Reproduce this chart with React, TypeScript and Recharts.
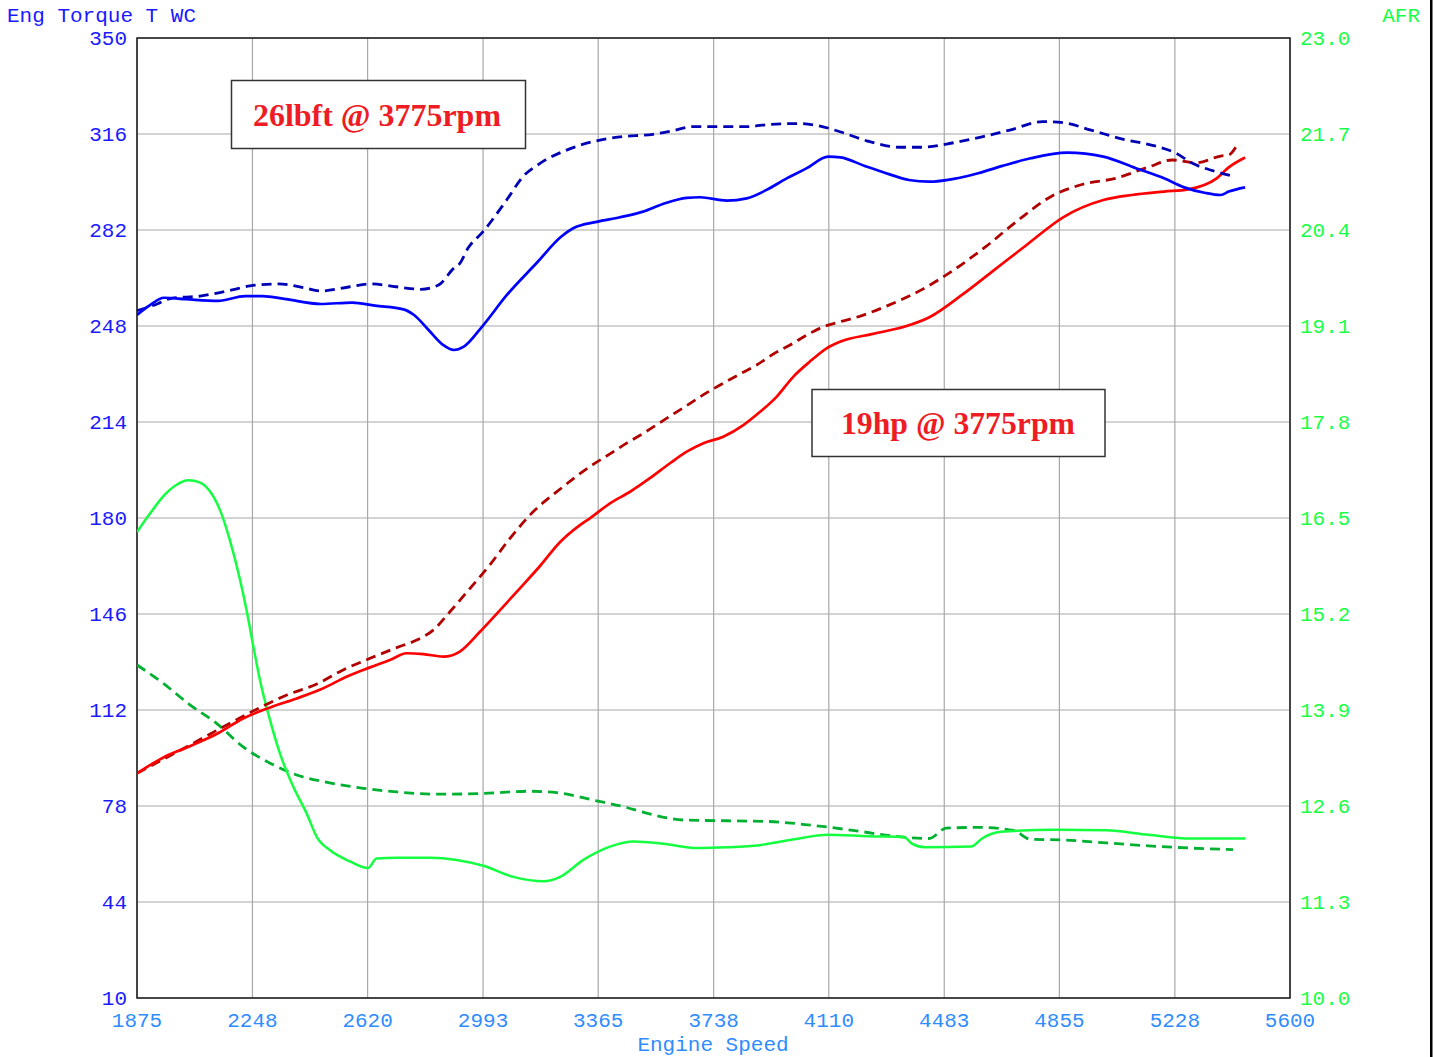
import React from 'react';
import { LineChart, Line, XAxis, YAxis, CartesianGrid, ReferenceArea } from 'recharts';

// ---- axes ----
const xTicks = [1875, 2248, 2620, 2993, 3365, 3738, 4110, 4483, 4855, 5228, 5600];
const leftTicks = [10, 44, 78, 112, 146, 180, 214, 248, 282, 316, 350];
const rightTicks = [10.0, 11.3, 12.6, 13.9, 15.2, 16.5, 17.8, 19.1, 20.4, 21.7, 23.0];

// ---- torque (current run, solid blue) ----
const torqueRpm = [1875, 1917, 1962, 2033, 2137, 2224, 2280, 2356, 2469, 2570, 2644, 2736, 2770, 2817, 2864, 2898, 2931, 2990, 3070, 3166, 3245, 3284, 3360, 3435, 3510, 3574, 3651, 3694, 3780, 3845, 3909, 3974, 4039, 4108, 4148, 4226, 4304, 4369, 4435, 4514, 4592, 4671, 4762, 4880, 4997, 5102, 5193, 5258, 5324, 5376, 5402, 5455];
const torqueVal = [251.9, 255.4, 258.0, 257.5, 256.9, 258.6, 258.6, 257.5, 255.8, 256.3, 255.2, 253.9, 251.9, 246.6, 241.3, 239.5, 240.7, 247.8, 259.0, 270.3, 279.6, 282.6, 284.9, 286.5, 288.5, 291.2, 293.4, 293.6, 292.4, 293.2, 296.2, 300.3, 303.9, 308.0, 307.7, 304.7, 301.8, 299.7, 299.1, 300.1, 302.1, 304.7, 307.4, 309.4, 308.0, 303.9, 300.3, 297.1, 295.2, 294.4, 295.6, 297.1];

// ---- torque (baseline run, dashed navy) ----
const torqueBaseRpm = [1875, 1940, 1985, 2079, 2182, 2240, 2332, 2413, 2469, 2563, 2631, 2712, 2792, 2849, 2898, 2918, 2944, 2993, 3069, 3122, 3177, 3263, 3348, 3435, 3542, 3607, 3671, 3845, 3920, 4017, 4082, 4146, 4232, 4343, 4408, 4513, 4605, 4695, 4801, 4867, 4957, 5062, 5167, 5232, 5285, 5350, 5415];
const torqueBaseVal = [253.4, 255.8, 257.8, 258.6, 260.8, 262.2, 262.9, 261.6, 260.4, 261.9, 262.9, 261.9, 261.0, 262.5, 268.4, 270.2, 275.5, 281.4, 292.6, 300.9, 305.6, 310.3, 313.3, 315.0, 315.9, 317.2, 318.6, 318.6, 319.4, 319.7, 318.8, 316.8, 313.6, 311.3, 311.3, 312.9, 315.0, 317.4, 320.4, 320.0, 317.4, 314.1, 311.7, 309.2, 305.6, 303.0, 301.1];

// ---- power (current run, solid red) ----
const powerRpm = [1875, 1959, 2046, 2132, 2218, 2305, 2391, 2477, 2552, 2628, 2692, 2746, 2800, 2865, 2918, 2983, 3048, 3112, 3177, 3242, 3306, 3338, 3403, 3468, 3532, 3597, 3651, 3705, 3769, 3834, 3888, 3942, 3995, 4049, 4103, 4146, 4252, 4356, 4435, 4540, 4644, 4749, 4867, 4997, 5089, 5193, 5271, 5363, 5402, 5455];
const powerVal = [89.6, 95.1, 99.2, 103.5, 109.0, 112.9, 116.1, 119.7, 123.8, 127.1, 129.7, 132.1, 131.8, 130.9, 132.7, 139.7, 147.4, 155.1, 163.0, 171.5, 177.5, 179.9, 185.2, 189.3, 194.1, 199.4, 203.5, 206.5, 208.8, 212.9, 217.6, 223.0, 230.0, 235.4, 240.1, 242.4, 245.2, 247.8, 251.1, 259.0, 267.8, 276.7, 286.5, 292.6, 294.4, 295.6, 296.4, 300.3, 304.2, 307.7];

// ---- power (baseline run, dashed dark red) ----
const powerBaseRpm = [1875, 2046, 2165, 2262, 2359, 2456, 2541, 2628, 2714, 2779, 2832, 2886, 2951, 3015, 3080, 3145, 3252, 3338, 3403, 3457, 3511, 3565, 3619, 3662, 3716, 3769, 3823, 3877, 3931, 3985, 4039, 4092, 4146, 4200, 4304, 4409, 4513, 4617, 4722, 4827, 4931, 5036, 5141, 5219, 5298, 5376, 5402, 5429];
const powerBaseVal = [89.6, 99.6, 106.7, 112.3, 117.3, 121.2, 126.2, 130.3, 134.1, 136.8, 140.3, 146.8, 155.1, 163.4, 172.8, 181.1, 191.1, 198.2, 202.7, 206.5, 210.0, 213.8, 217.6, 220.6, 224.4, 227.7, 231.0, 234.2, 238.1, 241.3, 244.8, 247.7, 249.5, 251.1, 255.4, 260.8, 267.8, 276.1, 285.5, 293.8, 298.2, 300.3, 304.2, 306.8, 305.8, 308.2, 308.6, 312.1];

// ---- AFR (current run, solid green) ----
const afrRpm = [1875, 1917, 1959, 2003, 2041, 2079, 2111, 2143, 2175, 2208, 2229, 2251, 2272, 2305, 2337, 2380, 2423, 2456, 2499, 2563, 2622, 2649, 2714, 2822, 2908, 2994, 3091, 3188, 3242, 3317, 3403, 3480, 3575, 3684, 3780, 3888, 3998, 4107, 4239, 4352, 4379, 4421, 4570, 4605, 4666, 4843, 5006, 5143, 5279, 5456];
const afrVal = [16.31, 16.56, 16.79, 16.95, 17.01, 16.98, 16.86, 16.61, 16.20, 15.66, 15.25, 14.76, 14.31, 13.76, 13.31, 12.86, 12.50, 12.18, 12.00, 11.85, 11.76, 11.89, 11.90, 11.90, 11.87, 11.79, 11.64, 11.58, 11.64, 11.87, 12.05, 12.12, 12.09, 12.03, 12.04, 12.07, 12.15, 12.21, 12.19, 12.18, 12.09, 12.04, 12.05, 12.16, 12.25, 12.28, 12.27, 12.21, 12.16, 12.16];

// ---- AFR (baseline run, dashed green) ----
const afrBaseRpm = [1875, 1960, 2046, 2132, 2218, 2305, 2391, 2477, 2606, 2714, 2854, 2994, 3145, 3231, 3360, 3457, 3507, 3643, 3780, 3916, 4053, 4188, 4325, 4434, 4489, 4597, 4707, 4761, 4870, 5007, 5143, 5279, 5416];
const afrBaseVal = [14.51, 14.26, 13.97, 13.72, 13.40, 13.18, 13.02, 12.93, 12.84, 12.79, 12.76, 12.77, 12.80, 12.78, 12.67, 12.58, 12.52, 12.41, 12.40, 12.39, 12.34, 12.27, 12.19, 12.16, 12.30, 12.31, 12.27, 12.15, 12.14, 12.10, 12.06, 12.03, 12.01];

// ---- annotations ----
const torqueNote = '26lbft @ 3775rpm';
const powerNote = '19hp @ 3775rpm';

type Row = { rpm: number; [k: string]: number };
const chartData: Row[] = [];
const addSeries = (rpms: number[], vals: number[], key: string) => {
  rpms.forEach((r, i) => chartData.push({ rpm: r, [key]: vals[i] }));
};
addSeries(torqueRpm, torqueVal, 'torque');
addSeries(torqueBaseRpm, torqueBaseVal, 'torqueBase');
addSeries(powerRpm, powerVal, 'power');
addSeries(powerBaseRpm, powerBaseVal, 'powerBase');
addSeries(afrRpm, afrVal, 'afr');
addSeries(afrBaseRpm, afrBaseVal, 'afrBase');
chartData.sort((a, b) => a.rpm - b.rpm);

const MONO = '"Liberation Mono", "Courier New", monospace';
const SERIF = '"Liberation Serif", "Times New Roman", serif';

export default function App() {
  const W = 1434;
  const H = 1057;
  return (
    <div style={{ position: 'absolute', left: 0, top: 0, width: W, height: H, background: '#fff', overflow: 'hidden' }}>
      <LineChart
        width={W}
        height={H}
        data={chartData}
        margin={{ top: 38, right: 84, bottom: 29, left: 77 }}
      >
        <CartesianGrid yAxisId="left" stroke="#a8a8a8" strokeWidth={1.2} />
        <XAxis
          dataKey="rpm"
          type="number"
          domain={[1875, 5600]}
          ticks={xTicks}
          allowDataOverflow
          height={30}
          axisLine={false}
          tickLine={false}
          tickMargin={8}
          tick={{ fill: '#2f8cff', fontSize: 21, fontFamily: MONO }}
        />
        <YAxis
          yAxisId="left"
          orientation="left"
          domain={[10, 350]}
          ticks={leftTicks}
          allowDataOverflow
          width={60}
          axisLine={false}
          tickLine={false}
          tickMargin={4}
          tick={{ fill: '#1a1aff', fontSize: 21, fontFamily: MONO }}
        />
        <YAxis
          yAxisId="right"
          orientation="right"
          domain={[10, 23]}
          ticks={rightTicks}
          allowDataOverflow
          width={60}
          axisLine={false}
          tickLine={false}
          tickMargin={4}
          tickFormatter={(v: number) => v.toFixed(1)}
          tick={{ fill: '#19ff45', fontSize: 21, fontFamily: MONO, textAnchor: 'start' }}
        />
        <ReferenceArea
          yAxisId="left"
          x1={1875}
          x2={5600}
          y1={10}
          y2={350}
          fill="none"
          fillOpacity={0}
          stroke="#1a1a1a"
          strokeWidth={1.5}
          ifOverflow="visible"
        />
        <Line yAxisId="right" dataKey="afrBase" type="monotone" stroke="#00b030" strokeWidth={2.8} strokeDasharray="10 6" dot={false} activeDot={false} connectNulls isAnimationActive={false} />
        <Line yAxisId="right" dataKey="afr" type="monotone" stroke="#14ff40" strokeWidth={2.5} dot={false} activeDot={false} connectNulls isAnimationActive={false} />
        <Line yAxisId="left" dataKey="powerBase" type="monotone" stroke="#b00000" strokeWidth={2.8} strokeDasharray="10 6" dot={false} activeDot={false} connectNulls isAnimationActive={false} />
        <Line yAxisId="left" dataKey="power" type="monotone" stroke="#ff0000" strokeWidth={2.7} dot={false} activeDot={false} connectNulls isAnimationActive={false} />
        <Line yAxisId="left" dataKey="torqueBase" type="monotone" stroke="#0000b4" strokeWidth={2.8} strokeDasharray="10 6" dot={false} activeDot={false} connectNulls isAnimationActive={false} />
        <Line yAxisId="left" dataKey="torque" type="monotone" stroke="#0000ff" strokeWidth={2.7} dot={false} activeDot={false} connectNulls isAnimationActive={false} />
      </LineChart>
      <svg width={W} height={H} style={{ position: 'absolute', left: 0, top: 0, pointerEvents: 'none' }}>
        <text x={7} y={21.5} fontFamily={MONO} fontSize={21} fill="#1a1aff">Eng Torque T WC</text>
        <text x={1420} y={21.5} fontFamily={MONO} fontSize={21} fill="#19ff45" textAnchor="end">AFR</text>
        <text x={713} y={1051} fontFamily={MONO} fontSize={21} fill="#2f8cff" textAnchor="middle">Engine Speed</text>
        <rect x={231.5} y={80.5} width={294} height={68} fill="#fff" stroke="#333" strokeWidth={1.5} />
        <text x={377} y={126} fontFamily={SERIF} fontWeight="bold" fontSize={32} fill="#ee1c25" textAnchor="middle" textLength={248} lengthAdjust="spacingAndGlyphs">{torqueNote}</text>
        <rect x={812} y={389.5} width={293} height={67} fill="#fff" stroke="#333" strokeWidth={1.5} />
        <text x={958} y={434} fontFamily={SERIF} fontWeight="bold" fontSize={32} fill="#ee1c25" textAnchor="middle" textLength={234} lengthAdjust="spacingAndGlyphs">{powerNote}</text>
        <rect x={1430} y={0} width={2.5} height={H} fill="#000" />
      </svg>
    </div>
  );
}
